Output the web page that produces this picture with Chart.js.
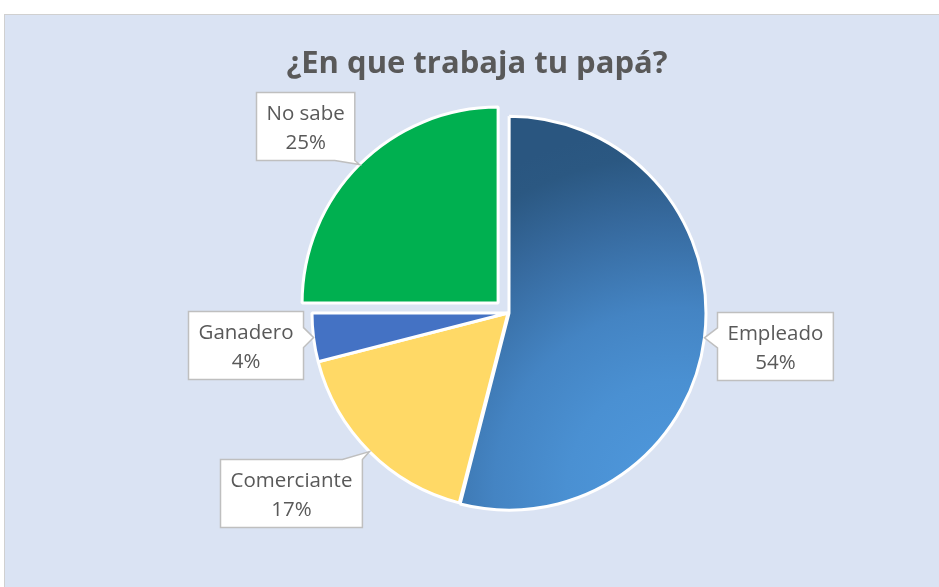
<!DOCTYPE html>
<html>
<head>
<meta charset="utf-8">
<script src="https://cdn.jsdelivr.net/npm/chart.js@4/dist/chart.umd.min.js"></script>
<style>
  body { margin: 0; background: #ffffff; }
  canvas { display: block; }
</style>
</head>
<body>
<canvas id="graficoPapa" width="939" height="587"></canvas>
<script>
// datos del grafico
var _titulo = "¿En que trabaja tu papá?";
var _categorias = ["Empleado", "Comerciante", "Ganadero", "No sabe"];
var _valores = [54, 17, 4, 25];

// estilo
var _colores = ["#2B5783", "#FFD966", "#4472C4", "#00B050"];
var _separacion = [4, 0, 0, 56];
// desplazamiento de cada etiqueta respecto a la punta de su flecha
var _desplazEtiquetas = [[70, 8], [-78, 41], [-68, 7], [-54, -39]];

var _fuente = "'Open Sans', sans-serif";

function limitar(v, a, b) {
    return Math.max(a, Math.min(b, v));
}

function colorEmpleado(ctx) {
    var chart = ctx.chart;
    var area = chart.chartArea;
    if (!area) return _colores[0];
    var cx = (area.left + area.right) / 2;
    var cy = (area.top + area.bottom) / 2;
    var r = 196;
    var gx = cx + r * 0.85, gy = cy + r * 0.9;
    var g = chart.ctx.createRadialGradient(gx, gy, 0, gx, gy, r * 1.85);
    g.addColorStop(0, "#4F99DE");
    g.addColorStop(0.3, "#4A90D2");
    g.addColorStop(0.5, "#4484C3");
    g.addColorStop(0.75, "#36699D");
    g.addColorStop(0.92, "#2B5882");
    g.addColorStop(1, "#2A5680");
    return g;
}

var pluginFondo = {
    id: "fondo",
    beforeDraw: function (chart) {
        var c = chart.ctx;
        c.save();
        c.fillStyle = "#ffffff";
        c.fillRect(0, 0, chart.width, chart.height);
        c.fillStyle = "#DAE3F3";
        c.fillRect(4, 14, chart.width - 4, chart.height - 14);
        c.strokeStyle = "#D0D0D0";
        c.lineWidth = 1;
        c.strokeRect(4.5, 14.5, chart.width, chart.height);

        c.fillStyle = "#595959";
        c.font = "bold 31px " + _fuente;
        c.textAlign = "center";
        c.textBaseline = "alphabetic";
        c.fillText(_titulo, 477, 73);
        c.restore();
    }
};

function dibujarCallout(c, x0, y0, x1, y1, tx, ty) {
    var b = 10;
    var m;
    c.beginPath();
    c.moveTo(x0, y0);
    if (ty < y0) {
        m = limitar(tx, x0 + b, x1 - b);
        c.lineTo(m - b, y0); c.lineTo(tx, ty); c.lineTo(m + b, y0);
    }
    c.lineTo(x1, y0);
    if (tx > x1 && ty >= y0 && ty <= y1) {
        m = limitar(ty, y0 + b, y1 - b);
        c.lineTo(x1, m - b); c.lineTo(tx, ty); c.lineTo(x1, m + b);
    }
    c.lineTo(x1, y1);
    if (ty > y1) {
        m = limitar(tx, x0 + b, x1 - b);
        c.lineTo(m + b, y1); c.lineTo(tx, ty); c.lineTo(m - b, y1);
    }
    c.lineTo(x0, y1);
    if (tx < x0 && ty >= y0 && ty <= y1) {
        m = limitar(ty, y0 + b, y1 - b);
        c.lineTo(x0, m + b); c.lineTo(tx, ty); c.lineTo(x0, m - b);
    }
    c.closePath();
    c.fillStyle = "#ffffff";
    c.fill();
    c.strokeStyle = "#BFBFBF";
    c.lineWidth = 1.5;
    c.stroke();
}

var pluginEtiquetas = {
    id: "etiquetas",
    afterDatasetsDraw: function (chart) {
        var c = chart.ctx;
        var meta = chart.getDatasetMeta(0);
        var total = _valores.reduce(function (a, b) { return a + b; }, 0);

        c.save();
        c.font = "20.5px " + _fuente;
        meta.data.forEach(function (arc, i) {
            var p = arc.getProps(["x", "y", "startAngle", "endAngle", "outerRadius"], true);
            var medio = (p.startAngle + p.endAngle) / 2;
            var circ = p.endAngle - p.startAngle;
            var fix = 1 - Math.sin(Math.min(Math.PI, circ));
            var d = (arc.options.offset || 0) / 4 * (1 + fix);
            var tx = p.x + Math.cos(medio) * (p.outerRadius + d);
            var ty = p.y + Math.sin(medio) * (p.outerRadius + d);

            var linea1 = _categorias[i];
            var linea2 = Math.round(_valores[i] / total * 100) + "%";
            var ancho = Math.max(c.measureText(linea1).width, c.measureText(linea2).width) + 20;
            var alto = 68;
            var bx = tx + _desplazEtiquetas[i][0];
            var by = ty + _desplazEtiquetas[i][1];
            var x0 = Math.round(bx - ancho / 2) + 0.5;
            var y0 = Math.round(by - alto / 2) + 0.5;

            dibujarCallout(c, x0, y0, x0 + ancho, y0 + alto, tx, ty);

            c.fillStyle = "#595959";
            c.textAlign = "center";
            c.textBaseline = "middle";
            c.fillText(linea1, x0 + ancho / 2, y0 + 22);
            c.fillText(linea2, x0 + ancho / 2, y0 + 51);
        });
        c.restore();
    }
};

new Chart(document.getElementById("graficoPapa"), {
    type: "pie",
    data: {
        labels: _categorias,
        datasets: [
            {
                data: _valores,
                radius: 196,
                backgroundColor: function (ctx) {
                    if (ctx.dataIndex === 0) return colorEmpleado(ctx);
                    return _colores[ctx.dataIndex];
                },
                borderColor: "#ffffff",
                borderWidth: 3,
                offset: _separacion
            }
        ]
    },
    options: {
        responsive: false,
        animation: false,
        devicePixelRatio: 1,
        layout: {
            padding: { left: 100, right: 23, top: 60, bottom: 21 }
        },
        plugins: {
            legend: { display: false },
            tooltip: { enabled: false },
            title: { display: false }
        }
    },
    plugins: [pluginFondo, pluginEtiquetas]
});
</script>
</body>
</html>
